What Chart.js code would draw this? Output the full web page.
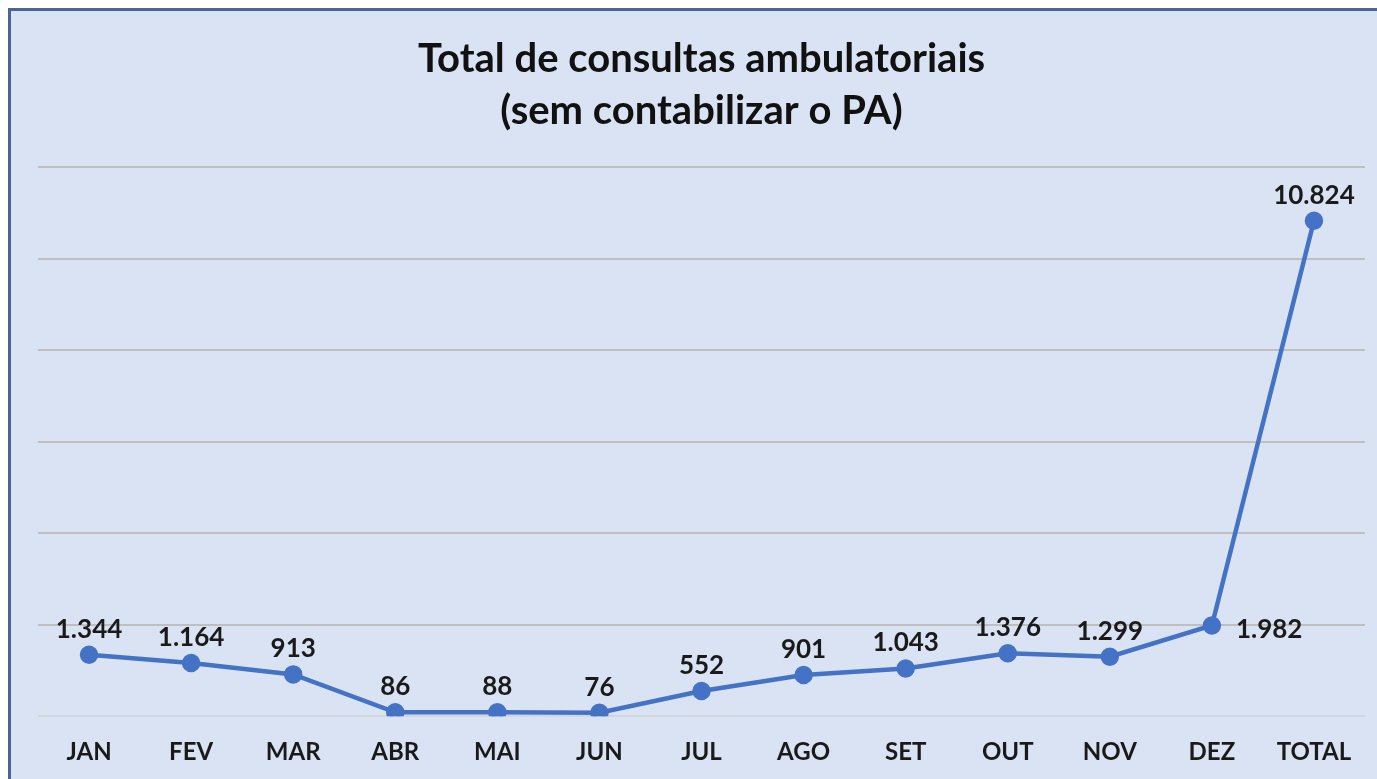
<!DOCTYPE html>
<html><head><meta charset="utf-8">
<script src="https://cdn.jsdelivr.net/npm/chart.js@4.4.1/dist/chart.umd.min.js"></script>
<style>
html,body{margin:0;padding:0;background:#fff;overflow:hidden;}
#frame{position:absolute;left:8px;top:8px;width:1400px;height:800px;border:3px solid #4A6494;background:#DAE3F3;box-sizing:border-box;}
#wrap{position:absolute;left:0;top:0;width:1377px;height:779px;}
</style></head>
<body>
<div id="frame"></div>
<div id="wrap"><canvas id="c" width="1377" height="779"></canvas></div>
<script>
const categories = ["JAN","FEV","MAR","ABR","MAI","JUN","JUL","AGO","SET","OUT","NOV","DEZ","TOTAL"];
const values = [1344,1164,913,86,88,76,552,901,1043,1376,1299,1982,10824];
const valueLabels = ["1.344","1.164","913","86","88","76","552","901","1.043","1.376","1.299","1.982","10.824"];
const titleLines = ["Total de consultas ambulatoriais","(sem contabilizar o PA)"];
const labelRightIndex = 11;

const labelPlugin = {
  id:'vlabels',
  afterDatasetsDraw(chart){
    const ctx = chart.ctx;
    const meta = chart.getDatasetMeta(0);
    ctx.save();
    ctx.font = 'bold 26px Lato';
    ctx.fillStyle = '#1a1a1a';
    meta.data.forEach((pt,i)=>{
      if(i===labelRightIndex){
        ctx.textAlign='left'; ctx.textBaseline='middle';
        ctx.fillText(valueLabels[i], pt.x+24, pt.y+4);
      } else {
        ctx.textAlign='center'; ctx.textBaseline='alphabetic';
        ctx.fillText(valueLabels[i], pt.x, pt.y-17);
      }
    });
    ctx.restore();
  }
};

new Chart(document.getElementById('c'),{
  type:'line',
  data:{labels:categories,datasets:[{data:values,borderColor:'#4472C4',backgroundColor:'#4472C4',borderWidth:4.5,pointRadius:7,pointHoverRadius:7,tension:0}]},
  options:{
    responsive:false,animation:false,
    layout:{padding:{left:38,right:12,top:33,bottom:-2}},
    plugins:{
      legend:{display:false},tooltip:{enabled:false},
      title:{display:true,text:titleLines,color:'#111',font:{family:'Lato',size:40,weight:'bold',lineHeight:1.3},padding:{top:0,bottom:30}}
    },
    scales:{
      x:{offset:true,grid:{display:false},border:{display:false},
         ticks:{color:'#1a1a1a',font:{family:'Lato',size:24,weight:'bold'},padding:14}},
      y:{min:0,max:12000,afterFit(s){s.width=0;},
         ticks:{display:false,stepSize:2000},
         border:{display:false},
         grid:{color:(c)=>c.tick && c.tick.value===0 ? '#D3D6DC' : '#BFBFBF',lineWidth:2,drawTicks:false}}
    }
  },
  plugins:[labelPlugin]
});
</script>
</body></html>
